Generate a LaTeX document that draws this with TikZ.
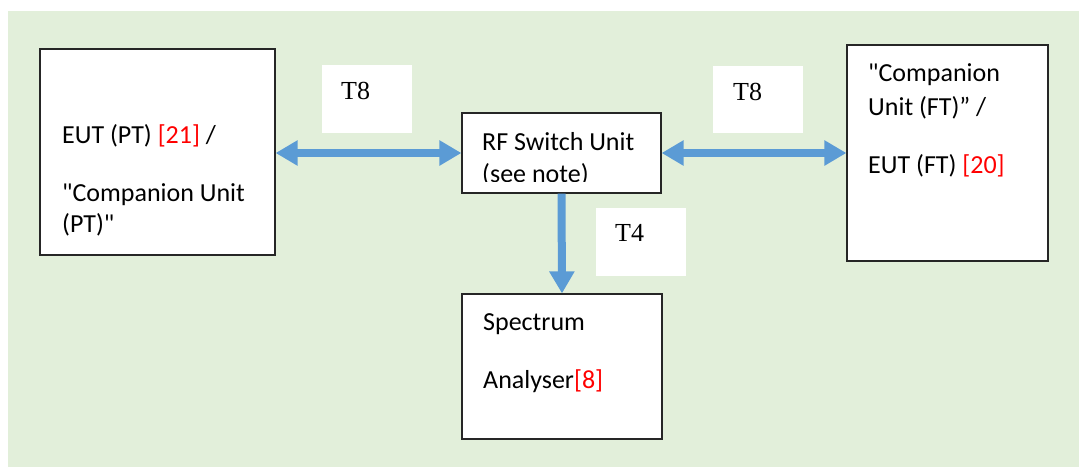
\documentclass[tikz,border=0pt]{standalone}
\usepackage{fontspec}
\setmainfont{Carlito}
\newfontfamily\tagfont{Liberation Serif}
\usetikzlibrary{arrows.meta}
\definecolor{bggreen}{RGB}{226,239,218}
\definecolor{linkblue}{RGB}{91,155,213}
\definecolor{refred}{RGB}{255,0,0}

\tikzset{
  unitbox/.style={draw=black!85, line width=1.2pt, fill=white, inner sep=0pt},
  tagbox/.style={fill=white, inner sep=0pt},
  boxtext/.style={anchor=base west, inner sep=0pt, font=\fontsize{26}{31}\selectfont},
  tagtext/.style={anchor=base west, inner sep=0pt, font=\tagfont\fontsize{26}{31}\selectfont},
  link/.style={linkblue, line width=8pt, {Triangle[length=22pt,width=24pt]}-{Triangle[length=22pt,width=24pt]}},
  linkdown/.style={linkblue, line width=8pt, -{Triangle[length=22pt,width=24pt]}}
}

\begin{document}
\begin{tikzpicture}[x=1pt, y=-1pt]
\useasboundingbox (0,0) rectangle (1079,467);
% Background
\fill[bggreen] (8,11) rectangle (1079,467);

% Units
\node[unitbox, minimum width=235pt, minimum height=206pt] (eut) at (157.5,152) {};
\node[unitbox, minimum width=199pt, minimum height=80pt] (rfsw) at (561.5,153) {};
\node[unitbox, minimum width=201pt, minimum height=216pt] (ft) at (947.5,153) {};
\node[unitbox, minimum width=200pt, minimum height=145pt] (sa) at (562,366.5) {};

% Test labels
\node[tagbox, minimum width=90pt, minimum height=68pt] (tagleft) at (367,99) {};
\node[tagbox, minimum width=90pt, minimum height=67pt] (tagright) at (758,99.5) {};
\node[tagbox, minimum width=90pt, minimum height=68pt] (tagdown) at (641,242) {};
\node[tagtext] (tagleftt) at (341,99) {T8};
\node[tagtext] (tagrightt) at (733,100) {T8};
\node[tagtext] (tagdownt) at (615,241) {T4};

% Links
\draw[link] (eut.east |- rfsw.west) -- (rfsw.west);
\draw[link] (rfsw.east) -- (ft.west |- rfsw.east);
\draw[linkdown] (rfsw.south) -- (sa.north);

% Unit texts
\node[boxtext] (euta) at (62,143) {EUT (PT) \textcolor{refred}{[21]} /};
\node[boxtext] (eutb) at (62,201) {\textquotedbl Companion Unit};
\node[boxtext] (eutc) at (62,232) {(PT)\textquotedbl};
\node[boxtext] (rfswa) at (482,150) {RF Switch Unit};
\begin{scope}
\clip (462,113) rectangle (661,181.5);
\node[boxtext] (rfswb) at (482,182) {(see note)};
\end{scope}
\node[boxtext] (fta) at (868,81) {\textquotedbl Companion};
\node[boxtext] (ftb) at (868,115) {Unit (FT)” /};
\node[boxtext] (ftc) at (868,173) {EUT (FT) \textcolor{refred}{[20]}};
\node[boxtext] (saa) at (483,330) {Spectrum};
\node[boxtext] (sab) at (483,388) {Analyser\textcolor{refred}{[8]}};
\end{tikzpicture}
\end{document}
